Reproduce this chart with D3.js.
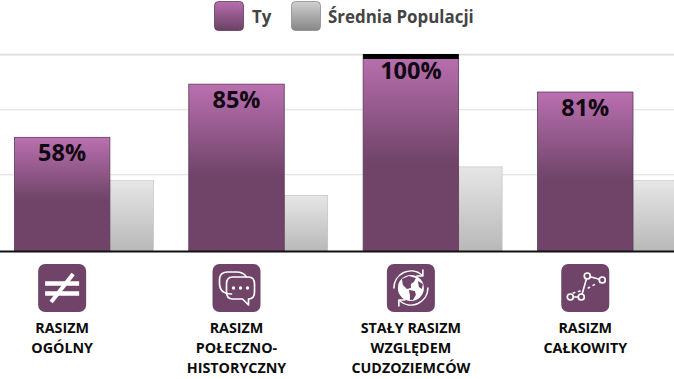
<!DOCTYPE html>
<html>
<head>
<meta charset="utf-8">
<script src="https://cdn.jsdelivr.net/npm/d3@7"></script>
<style>
  html, body { margin: 0; padding: 0; background: #fff; overflow: hidden; }
  svg { display: block; }
  text { font-family: "Open Sans", sans-serif; font-weight: 700; }
</style>
</head>
<body>
<svg id="chart" width="674" height="379"></svg>
<script>
const categories = ['ogolny', 'poleczno', 'staly', 'calkowity'];
const categoryLines = [
  ['RASIZM', 'OGÓLNY'],
  ['RASIZM', 'POŁECZNO-', 'HISTORYCZNY'],
  ['STAŁY RASIZM', 'WZGLĘDEM', 'CUDZOZIEMCÓW'],
  ['RASIZM', 'CAŁKOWITY']
];
const youValues = [58, 85, 100, 81];
const populationValues = [36, 28.5, 43, 36];
const gridValues = [39, 72, 100];
const legendLabels = ['Ty', 'Średnia Populacji'];

const PURPLE = '#6f4468';
const svg = d3.select('#chart');

const x = d3.scaleBand().domain(categories).range([14.4, 676.5]).paddingInner(0.203).paddingOuter(0);
const y = d3.scaleLinear().domain([0, 100]).range([251.6, 54.6]);
// the "you" bar takes about 69% of each group, the population bar the rest
const inner = d3.scaleLinear().domain([0, 1]).range([0, x.bandwidth()]);
const youShare = 0.687;

const defs = svg.append('defs');
function gradient(id, stops) {
  const g = defs.append('linearGradient').attr('id', id)
    .attr('x1', 0).attr('y1', 0).attr('x2', 0).attr('y2', 1);
  stops.forEach(function (s) {
    g.append('stop').attr('offset', s[0]).attr('stop-color', s[1]);
  });
}
gradient('barYou', [[0, '#ba70b0'], [0.55, PURPLE], [1, PURPLE]]);
gradient('barPop', [[0, '#e6e6e6'], [1, '#b8b8b8']]);
gradient('legendYou', [[0, '#b76eae'], [1, '#6a4163']]);
gradient('legendPop', [[0, '#d0d0d0'], [1, '#868686']]);

// grid
svg.append('g').selectAll('line')
  .data(gridValues)
  .join('line')
  .attr('x1', 0).attr('x2', 674)
  .attr('y1', function (d) { return y(d); })
  .attr('y2', function (d) { return y(d); })
  .attr('stroke', '#dcdcdc')
  .attr('stroke-width', function (d) { return d === 100 ? 1.6 : 1.2; });

// population bars
svg.append('g').selectAll('rect')
  .data(populationValues)
  .join('rect')
  .attr('x', function (d, i) { return x(categories[i]) + inner(youShare); })
  .attr('y', function (d) { return y(d); })
  .attr('width', inner(1 - youShare))
  .attr('height', function (d) { return y(0) - y(d); })
  .attr('fill', 'url(#barPop)')
  .attr('stroke', '#bdbdbd')
  .attr('stroke-width', 0.6);

// your bars
svg.append('g').selectAll('rect')
  .data(youValues)
  .join('rect')
  .attr('x', function (d, i) { return x(categories[i]); })
  .attr('y', function (d) { return y(d); })
  .attr('width', inner(youShare))
  .attr('height', function (d) { return y(0) - y(d); })
  .attr('fill', 'url(#barYou)')
  .attr('stroke', '#5e3a58')
  .attr('stroke-width', 0.8);

// black cap on the bar that reaches the maximum
svg.append('g').selectAll('rect')
  .data(youValues.filter(function (d) { return d === 100; }))
  .join('rect')
  .attr('x', x(categories[youValues.indexOf(100)]))
  .attr('y', function (d) { return y(d) - 0.6; })
  .attr('width', inner(youShare))
  .attr('height', 5)
  .attr('fill', '#000');

// value labels
svg.append('g').selectAll('text')
  .data(youValues)
  .join('text')
  .attr('x', function (d, i) { return x(categories[i]) + inner(youShare) / 2; })
  .attr('y', function (d) { return y(d) + 24; })
  .attr('text-anchor', 'middle')
  .attr('font-size', 23.5)
  .attr('fill', '#120812')
  .text(function (d) { return d + '%'; });

// baseline
svg.append('line')
  .attr('x1', 0).attr('x2', 674)
  .attr('y1', y(0)).attr('y2', y(0))
  .attr('stroke', '#111')
  .attr('stroke-width', 2);

// legend
const legendX = [214, 291];
const legendTextX = [252, 328];
legendLabels.forEach(function (label, i) {
  svg.append('rect')
    .attr('x', legendX[i] + 0.5).attr('y', 1.5)
    .attr('width', 29).attr('height', 29).attr('rx', 4)
    .attr('fill', i === 0 ? 'url(#legendYou)' : 'url(#legendPop)')
    .attr('stroke', i === 0 ? '#5e3a58' : '#8c8c8c')
    .attr('stroke-width', 0.8);
  svg.append('text')
    .attr('x', legendTextX[i]).attr('y', 23)
    .attr('font-size', 16.9)
    .attr('fill', '#444')
    .text(label);
});

// icons, drawn in a 48x48 box
const iconDraw = [
  function (g) {
    g.append('path').attr('d', 'M7 19.5H41M7 29.5H41').attr('stroke-width', 4.5);
    g.append('path').attr('d', 'M13 38L35 10').attr('stroke-width', 4);
  },
  function (g) {
    g.append('path').attr('stroke-width', 1.7)
      .attr('d', 'M19 30C13 30 7 28 7 19V16C7 10 11 8 15 8H24C29 8 32 10 34 13');
    g.append('path').attr('stroke-width', 1.7)
      .attr('d', 'M20 13H36C41 13 42 17 42 20V28C42 32 40 35 36 35V41L30 35H20C16 35 14 32 14 28V20C14 16 16 13 20 13Z');
    g.selectAll('circle.dot').data([21, 28, 35]).join('circle')
      .attr('cx', function (d) { return d; }).attr('cy', 24).attr('r', 1.7)
      .attr('fill', '#fff').attr('stroke', 'none');
  },
  function (g) {
    g.append('path').attr('stroke-width', 1.6).attr('d', 'M7 24A17 17 0 0 1 35 11M41 24A17 17 0 0 1 13 37');
    g.append('path').attr('stroke-width', 1.6).attr('d', 'M36 6V12H30M12 42V36H18');
    g.append('circle').attr('cx', 24).attr('cy', 24).attr('r', 13).attr('fill', '#fff').attr('stroke', 'none');
    g.append('path').attr('fill', PURPLE).attr('stroke', 'none')
      .attr('d', 'M15 15L22 12L29 14L27 18L24 20L24 24L20 25L16 21ZM22 26L28 27L29 31L26 36L23 36L23 31ZM31 17L36 20L35 25L32 23Z');
  },
  function (g) {
    g.append('path').attr('stroke-width', 1.6).attr('d', 'M9 33H20L26 12L41 16');
    g.append('path').attr('stroke-width', 1.6).attr('stroke-dasharray', '1.5 4').attr('d', 'M12 29L19 27M27 24L36 19');
    g.selectAll('circle.node').data([[9, 33], [20, 33], [26, 12], [41, 16]]).join('circle')
      .attr('cx', function (d) { return d[0]; }).attr('cy', function (d) { return d[1]; })
      .attr('r', 3).attr('fill', PURPLE).attr('stroke-width', 1.7);
  }
];

const groupCenter = function (i) { return x(categories[i]) + inner(youShare) / 2; };

categories.forEach(function (c, i) {
  const g = svg.append('g').attr('transform', 'translate(' + (groupCenter(i) - 24) + ',264)');
  g.append('rect').attr('width', 48).attr('height', 48).attr('rx', 7).attr('fill', PURPLE);
  const art = g.append('g').attr('fill', 'none').attr('stroke', '#fff').attr('stroke-linecap', 'round').attr('stroke-linejoin', 'round');
  if (i === 0) { art.attr('stroke-linecap', 'butt'); }
  iconDraw[i](art);

  svg.append('g').selectAll('text')
    .data(categoryLines[i])
    .join('text')
    .attr('x', groupCenter(i))
    .attr('y', function (d, j) { return 333 + j * 19.8; })
    .attr('text-anchor', 'middle')
    .attr('font-size', 14.3)
    .attr('fill', '#0c0c0c')
    .text(function (d) { return d; });
});
</script>
</body>
</html>
